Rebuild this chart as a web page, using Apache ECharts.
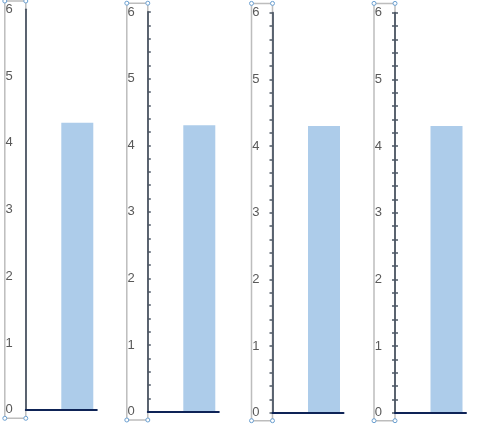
<!DOCTYPE html>
<html>
<head>
<meta charset="utf-8">
<script src="https://cdn.jsdelivr.net/npm/echarts@6/dist/echarts.min.js"></script>
<style>
html,body{margin:0;padding:0;background:#fff;}
#chart{width:481px;height:425px;}
</style>
</head>
<body>
<div id="chart"></div>
<script>
// ---- data ----
const categories = ['1'];
const firstSeries = [0];      // empty first series in the cluster
const secondSeries = [4.3];   // visible bar
const yMin = 0;
const yMax = 6;
const tickStep = 0.2;
const yTickLabels = ['0', '1', '2', '3', '4', '5', '6'];
const tickStyles = ['none', 'inside', 'outside', 'cross'];

// ---- layout (pixels) ----
const axisX = [25.8, 147.8, 272.5, 395];
const plotTop = [9.3, 12, 12.7, 12.7];
const plotBase = [409.7, 411.8, 412.8, 412.8];
const plotW = 71;
const boxTop = [1, 3.2, 3.4, 3.4];
const boxBottom = [418.3, 420, 420.7, 420.7];
const boxLeftOff = 21;

const chart = echarts.init(document.getElementById('chart'), null, {renderer: 'canvas'});

const grids = [], xAxes = [], yAxes = [], series = [], graphics = [];

function labelFmt(v) {
  const r = Math.round(v);
  if (Math.abs(v - r) < 1e-6 && r >= 0 && r < yTickLabels.length) return yTickLabels[r];
  return '';
}

tickStyles.forEach((ts, i) => {
  grids.push({left: axisX[i], top: plotTop[i], width: plotW, height: plotBase[i] - plotTop[i], containLabel: false});
  xAxes.push({
    type: 'category', gridIndex: i, data: categories,
    axisLine: {show: true, lineStyle: {color: '#0E2356', width: 2}},
    axisTick: {show: false}, axisLabel: {show: false}, splitLine: {show: false}, z: 3
  });
  const baseY = {
    type: 'value', gridIndex: i, min: yMin, max: yMax, interval: tickStep,
    axisLine: {show: true, lineStyle: {color: '#4E5866', width: 1.8}},
    axisTick: {show: ts !== 'none', inside: ts === 'inside' || ts === 'cross', length: 3,
               lineStyle: {color: '#4E5866', width: 1.5}},
    axisLabel: {show: true, formatter: labelFmt, align: 'left', margin: 20.3,
                color: '#595959', fontSize: 13, fontFamily: 'Liberation Sans, Arial, sans-serif'},
    splitLine: {show: false}, z: 2
  };
  const yi = yAxes.length;
  yAxes.push(baseY);
  if (ts === 'cross') {
    yAxes.push({
      type: 'value', gridIndex: i, min: yMin, max: yMax, interval: tickStep, position: 'left',
      axisLine: {show: false},
      axisTick: {show: true, inside: false, length: 3, lineStyle: {color: '#4E5866', width: 1.5}},
      axisLabel: {show: false}, splitLine: {show: false}, z: 2
    });
  }
  series.push({type: 'bar', xAxisIndex: i, yAxisIndex: yi, data: firstSeries,
               barWidth: 32, barGap: '0%', itemStyle: {color: '#ADCCEA'}, silent: true});
  series.push({type: 'bar', xAxisIndex: i, yAxisIndex: yi, data: secondSeries,
               barWidth: 32, barGap: '0%', itemStyle: {color: '#ADCCEA'}, silent: true});

  // selection box decoration around the axis labels
  const L = axisX[i] - boxLeftOff, R = axisX[i], T = boxTop[i], B = boxBottom[i];
  graphics.push({type: 'polyline', z: 1, shape: {points: [[R, T], [L, T], [L, B], [R, B], [R, T]]},
                 style: {stroke: '#BDBDBD', fill: null, lineWidth: 1.5}});
  [[L, T], [R, T], [L, B], [R, B]].forEach(p => {
    graphics.push({type: 'circle', z: 10, shape: {cx: p[0], cy: p[1], r: 2},
                   style: {stroke: '#6A9FD0', fill: '#ffffff', lineWidth: 1}});
  });
});

chart.setOption({
  animation: false,
  grid: grids, xAxis: xAxes, yAxis: yAxes, series: series,
  graphic: {elements: graphics}
});
</script>
</body>
</html>
